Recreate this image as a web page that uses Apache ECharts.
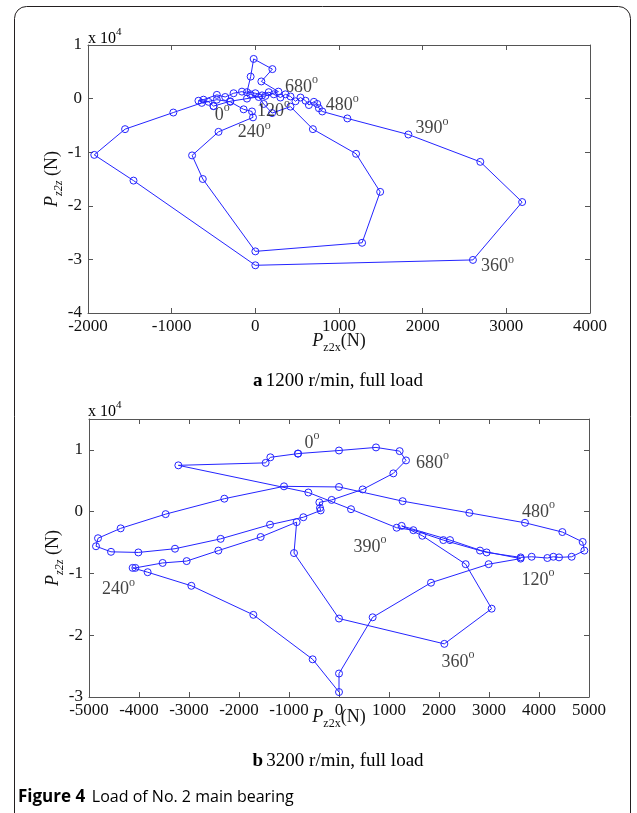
<!DOCTYPE html>
<html>
<head>
<meta charset="utf-8">
<script src="https://cdn.jsdelivr.net/npm/echarts@6/dist/echarts.min.js"></script>
<style>
html,body{margin:0;padding:0;background:#fff;}
#c{width:637px;height:813px;}
</style>
</head>
<body>
<div id="c"></div>
<script>
// ---- Data: chart a (1200 r/min), P_z2x in N, P_z2z in 10^4 N ----
const topX = [-500,-560,-680,-620,-460,-360,-260,-160,-60,40,100,200,420,688,1204,1492,1276,0,-628,-756,-440,-28,-40,-140,-300,-460,-640,-980,-1557,-1925,-1456,0,2601,3189,2689,1829,1100,800,760,740,700,640,600,540,480,420,360,300,220,160,80,0,-100,-56,-20,204,72,276,120,-100,-300,-500];
const topY = [-0.14,-0.06,-0.04,-0.02,0.07,0.03,0.10,0.13,0.08,0.03,-0.10,-0.27,-0.15,-0.57,-1.03,-1.74,-2.69,-2.85,-1.50,-1.06,-0.62,-0.35,-0.24,-0.20,-0.06,-0.02,-0.08,-0.26,-0.57,-1.05,-1.53,-3.11,-3.01,-1.93,-1.18,-0.67,-0.37,-0.24,-0.18,-0.10,-0.06,-0.12,-0.04,0.02,-0.05,0.04,0.08,0.02,0.08,0.12,0.06,0.10,0.12,0.41,0.74,0.55,0.32,0.13,0.05,0.00,-0.05,-0.14];
const topLabelText = ['0','120','240','360','390','480','680'];
const topLabelX = [-396,216,-12,2893,2113,1038,552];
const topLabelY = [-0.27,-0.20,-0.60,-3.10,-0.52,-0.09,0.25];

// ---- Data: chart b (3200 r/min) ----
const botX = [-820,-1373,-1467,-3213,-613,240,1153,1487,2087,2820,3633,2993,1840,673,0,0,-527,-1713,-2953,-3827,-4127,-4073,-3527,-3047,-2413,-1567,-847,-900,0,2107,3053,2533,1667,1253,2220,2953,3633,3853,4167,4287,4400,4653,4907,4873,4467,3720,2607,1273,0,-1100,-2293,-3467,-4367,-4820,-4860,-4560,-4013,-3280,-2367,-1380,-713,-367,-380,-393,-147,473,1087,1340,1213,740,0,-820];
const botY = [0.94,0.88,0.79,0.75,0.31,0.04,-0.26,-0.30,-0.46,-0.63,-0.76,-0.85,-1.15,-1.71,-2.62,-2.92,-2.39,-1.67,-1.20,-0.98,-0.91,-0.91,-0.83,-0.80,-0.63,-0.41,-0.17,-0.67,-1.73,-2.14,-1.57,-0.85,-0.39,-0.23,-0.46,-0.66,-0.74,-0.73,-0.75,-0.73,-0.74,-0.73,-0.63,-0.49,-0.33,-0.18,-0.02,0.17,0.40,0.41,0.21,-0.04,-0.27,-0.43,-0.56,-0.65,-0.66,-0.60,-0.44,-0.21,-0.09,0.02,0.06,0.15,0.19,0.36,0.62,0.83,0.98,1.04,0.99,0.94];
const botLabelText = ['0','120','240','360','390','480','680'];
const botLabelX = [-540,3980,-4410,2380,620,3990,1870];
const botLabelY = [1.14,-1.07,-1.23,-2.40,-0.54,0.03,0.82];

// ---- Axis ticks ----
const topXTicks = {min:-2000, max:4000, interval:1000};
const topYTicks = {min:-4, max:1, interval:1};
const botXTicks = {min:-5000, max:5000, interval:1000};
const botYTicks = {min:-3, max:1.5, interval:1};

const SERIF = 'Liberation Serif';
const BLUE = '#2424ff';
const AX = '#555';

function xyPairs(xs, ys){ return xs.map((x,i)=>[x, ys[i]]); }
function labelPairs(xs, ys, t){ return xs.map((x,i)=>[x, ys[i], t[i]]); }

const richDeg = {
  n:{fontFamily:SERIF,fontSize:18,color:'#111',lineHeight:22,verticalAlign:'bottom'},
  s:{fontFamily:SERIF,fontSize:12,color:'#111',lineHeight:22,verticalAlign:'top'}
};
const richName = {
  p:{fontFamily:SERIF,fontSize:18,fontStyle:'italic',color:'#111',lineHeight:26,verticalAlign:'middle'},
  b:{fontFamily:SERIF,fontSize:12,color:'#111',lineHeight:26,verticalAlign:'bottom'},
  bi:{fontFamily:SERIF,fontSize:12,fontStyle:'italic',color:'#111',lineHeight:26,verticalAlign:'bottom'},
  n:{fontFamily:SERIF,fontSize:18,color:'#111',lineHeight:26,verticalAlign:'middle'}
};
const richTick = { t:{fontFamily:SERIF,fontSize:17,color:'#111'} };

function fmtInt(v){
  if (Math.abs(v-Math.round(v))>1e-9) return '';
  return '{t|' + String(Math.round(v)) + '}';
}

function mkX(idx, t, pos, show, name, gap){
  return {
    type:'value', gridIndex:idx, position:pos, min:t.min, max:t.max, interval:t.interval,
    splitLine:{show:false},
    axisLine:{show:true,onZero:false,lineStyle:{color:AX,width:1}},
    axisTick:{show:true,inside:true,length:5,lineStyle:{color:AX}},
    axisLabel:{show:show,fontFamily:SERIF,fontSize:17,color:'#111',margin:5,formatter:fmtInt,rich:richTick},
    name: name || '', nameLocation:'middle', nameGap:gap||0, nameMoveOverlap:false,
    nameTextStyle:{rich:richName}
  };
}
function mkY(idx, t, pos, show, name, gap){
  return {
    type:'value', gridIndex:idx, position:pos, min:t.min, max:t.max, interval:t.interval,
    splitLine:{show:false},
    axisLine:{show:true,onZero:false,lineStyle:{color:AX,width:1}},
    axisTick:{show:true,inside:true,length:5,lineStyle:{color:AX}},
    axisLabel:{show:show,fontFamily:SERIF,fontSize:17,color:'#111',margin:6,formatter:fmtInt,rich:richTick},
    name: name || '', nameLocation:'middle', nameGap:gap||0, nameRotate:90, nameMoveOverlap:false,
    nameTextStyle:{rich:richName}
  };
}

const lineSeries = (xi, yi, data) => ({
  type:'line', xAxisIndex:xi, yAxisIndex:yi, data:data,
  symbol:'circle', symbolSize:7, showSymbol:true, animation:false,
  lineStyle:{color:BLUE,width:1},
  itemStyle:{color:'rgba(0,0,0,0)',borderColor:BLUE,borderWidth:1},
  z:3
});
const labelSeries = (xi, yi, data) => ({
  type:'scatter', xAxisIndex:xi, yAxisIndex:yi, data:data, symbolSize:0, animation:false,
  label:{show:true,position:'inside',formatter:p=>'{n|'+p.value[2]+'}{s|o}',rich:richDeg},
  z:4
});

const chart = echarts.init(document.getElementById('c'), null, {renderer:'canvas'});
chart.setOption({
  animation:false,
  backgroundColor:'#fff',
  textStyle:{fontFamily:SERIF},
  grid:[
    {left:88, top:45, width:502, height:268},
    {left:89, top:419, width:500, height:278}
  ],
  xAxis:[
    mkX(0, topXTicks, 'bottom', true, '{p|P}{b|z2x}{n|(N)}', 15),
    mkX(0, topXTicks, 'top', false),
    mkX(1, botXTicks, 'bottom', true, '{p|P}{b|z2x}{n|(N)}', 7),
    mkX(1, botXTicks, 'top', false)
  ],
  yAxis:[
    mkY(0, topYTicks, 'left', true, '{p|P}{bi|z2z}{n| (N)}', 23),
    mkY(0, topYTicks, 'right', false),
    mkY(1, botYTicks, 'left', true, '{p|P}{bi|z2z}{n| (N)}', 23),
    mkY(1, botYTicks, 'right', false)
  ],
  series:[
    lineSeries(0,0,xyPairs(topX, topY)),
    labelSeries(0,0,labelPairs(topLabelX, topLabelY, topLabelText)),
    lineSeries(2,2,xyPairs(botX, botY)),
    labelSeries(2,2,labelPairs(botLabelX, botLabelY, botLabelText))
  ],
  graphic:[
    {type:'rect', shape:{x:14.5,y:6.5,width:616,height:840,r:12}, style:{fill:'none',stroke:'#231f20',lineWidth:1}, z:0},
    {type:'text', left:88, top:27, style:{text:'{a|x 10}{b|4}', rich:{a:{fontFamily:SERIF,fontSize:16,color:'#111',lineHeight:20,verticalAlign:'bottom'},b:{fontFamily:SERIF,fontSize:11,color:'#111',lineHeight:20,verticalAlign:'top'}}}},
    {type:'text', left:88, top:400, style:{text:'{a|x 10}{b|4}', rich:{a:{fontFamily:SERIF,fontSize:16,color:'#111',lineHeight:20,verticalAlign:'bottom'},b:{fontFamily:SERIF,fontSize:11,color:'#111',lineHeight:20,verticalAlign:'top'}}}},
    {type:'text', x:338, y:381, style:{text:'{b|a} {r|1200 r/min, full load}', align:'center', verticalAlign:'middle', rich:{b:{fontFamily:SERIF,fontSize:19,fontWeight:'bold',color:'#111'},r:{fontFamily:SERIF,fontSize:19,color:'#111'}}}},
    {type:'text', x:338, y:761, style:{text:'{b|b} {r|3200 r/min, full load}', align:'center', verticalAlign:'middle', rich:{b:{fontFamily:SERIF,fontSize:19,fontWeight:'bold',color:'#111'},r:{fontFamily:SERIF,fontSize:19,color:'#111'}}}},
    {type:'text', x:18, y:797, style:{text:'{b|Figure 4}  {r|Load of No. 2 main bearing}', verticalAlign:'middle', rich:{b:{fontFamily:'Open Sans',fontSize:17,fontWeight:'bold',color:'#231f20'},r:{fontFamily:'Open Sans',fontSize:16,color:'#231f20'}}}}
  ]
});
</script>
</body>
</html>
